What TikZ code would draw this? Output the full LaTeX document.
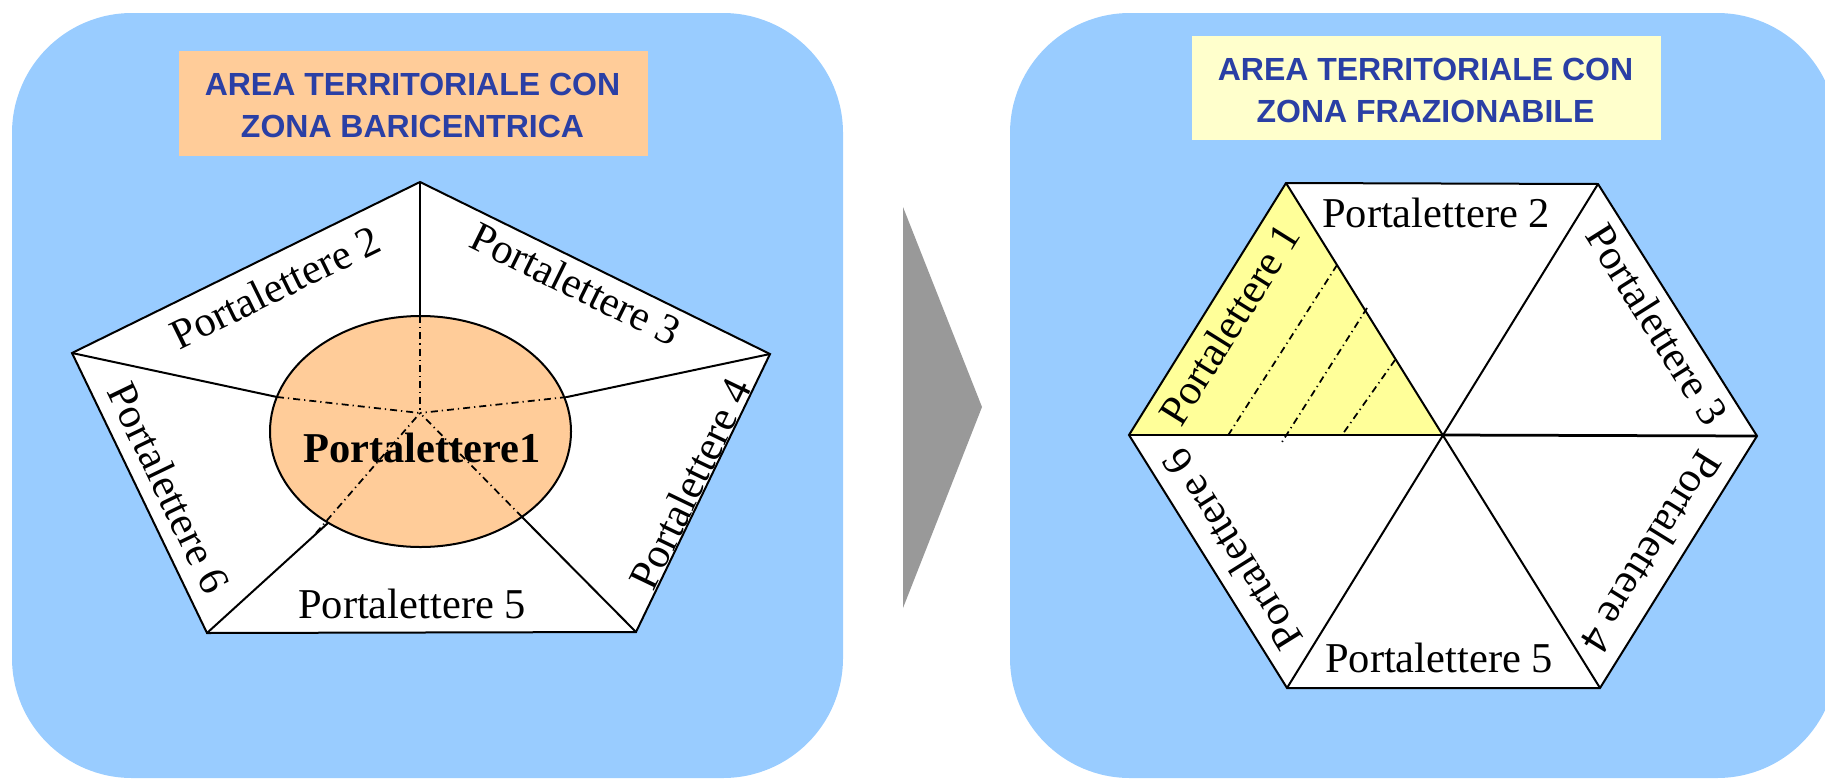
\documentclass[tikz,border=0pt]{standalone}
\usepackage{fontspec}
\setmainfont{Liberation Serif}
\newfontfamily\titlefont{Liberation Sans}
\usetikzlibrary{shapes.geometric}
\definecolor{panelblue}{HTML}{99CCFF}
\definecolor{peach}{HTML}{FFCC99}
\definecolor{paleyellow}{HTML}{FFFFCC}
\definecolor{zoneyellow}{HTML}{FFFF99}
\definecolor{titleblue}{HTML}{2A3FA5}
\definecolor{arrowgray}{HTML}{999999}
\begin{document}
\begin{tikzpicture}[x=0.4pt,y=-0.4pt,
  panel/.style={fill=panelblue, rounded corners=48pt},
  titlebox/.style={rectangle, inner sep=0pt, anchor=north west, minimum width=187.6pt},
  titletext/.style={font=\titlefont\bfseries\fontsize{12.8pt}{15pt}\selectfont, text=titleblue, anchor=base, inner sep=0pt},
  lbl/.style={font=\fontsize{17pt}{20pt}\selectfont, inner sep=0pt},
  edgeline/.style={line width=0.8pt, line join=miter},
  dashdotline/.style={line width=0.7pt, dash pattern=on 2.8pt off 1.6pt on 0.5pt off 1.6pt}
]
\useasboundingbox (0,0) rectangle (1825,780);

% panels
\path[panel] (12,13) rectangle (843,778);
\path[panel] (1010,13) rectangle (1837,778);

% arrow
\coordinate (aT) at (903,207);
\coordinate (aTip) at (982,407);
\coordinate (aB) at (903,608);
\fill[arrowgray] (aT) -- (aTip) -- (aB) -- cycle;

% titles
\node[titlebox, fill=peach, minimum height=42pt] (tboxL) at (178,50) {};
\node[titletext] (tL1) at (412.5,95) {AREA TERRITORIALE CON};
\node[titletext] (tL2) at (412.5,137) {ZONA BARICENTRICA};
\node[titlebox, fill=paleyellow, minimum height=41.6pt] (tboxR) at (1191,35) {};
\node[titletext] (tR1) at (1425.5,80) {AREA TERRITORIALE CON};
\node[titletext] (tR2) at (1425.5,122) {ZONA FRAZIONABILE};

% ---------- pentagon ----------
\coordinate (pT) at (420,182);
\coordinate (pR) at (770,354);
\coordinate (pBR) at (636,632);
\coordinate (pBL) at (207,633);
\coordinate (pL) at (72,353);
\coordinate (pC) at (420,413);
\coordinate (eT) at (420,316);
\coordinate (eL) at (277,397);
\coordinate (eR) at (567,397);
\coordinate (eBL) at (328,523);
\coordinate (eBLx) at (316,533);
\coordinate (eBR) at (522,517);

\draw[edgeline, fill=white] (pT) -- (pR) -- (pBR) -- (pBL) -- (pL) -- cycle;
\draw[edgeline] (pT) -- (eT);
\draw[edgeline] (pL) -- (eL);
\draw[edgeline] (pR) -- (eR);
\draw[edgeline] (pBL) -- (eBL);
\draw[edgeline] (pBR) -- (eBR);
\node[ellipse, draw, line width=0.8pt, fill=peach, minimum width=120.4pt, minimum height=92.4pt, inner sep=0pt] (zone) at (420.5,431.5) {};
\draw[dashdotline] (eT) -- (pC);
\draw[dashdotline] (eL) -- (pC);
\draw[dashdotline] (eR) -- (pC);
\draw[dashdotline] (eBLx) -- (pC);
\draw[dashdotline] (eBR) -- (pC);

\node[lbl, rotate=26.2] (lp2) at (275,287) {Portalettere 2};
\node[lbl, rotate=-26.2] (lp3) at (576,284) {Portalettere 3};
\node[lbl, rotate=64.3] (lp4) at (690,484) {Portalettere 4};
\node[lbl, anchor=base] (lp5) at (412,618) {Portalettere 5};
\node[lbl, rotate=-64.3] (lp6) at (169,488) {Portalettere 6};
\node[lbl, font=\bfseries\fontsize{17pt}{20pt}\selectfont] (lp1) at (422,448) {Portalettere1};

% ---------- hexagon ----------
\coordinate (hTL) at (1286,183);
\coordinate (hTR) at (1598,184);
\coordinate (hR) at (1757,436);
\coordinate (hBR) at (1600,688);
\coordinate (hBL) at (1287,688);
\coordinate (hL) at (1129,435);
\coordinate (hC) at (1443,435);

\fill[white] (hTL) -- (hTR) -- (hR) -- (hBR) -- (hBL) -- (hL) -- cycle;
\fill[zoneyellow] (hTL) -- (hL) -- (hC) -- cycle;

\coordinate (d1a) at (1337,265); \coordinate (d1b) at (1227,437);
\coordinate (d2a) at (1367,308); \coordinate (d2b) at (1282,442);
\coordinate (d3a) at (1395,360); \coordinate (d3b) at (1342,435);
\draw[dashdotline] (d1a) -- (d1b);
\draw[dashdotline] (d2a) -- (d2b);
\draw[dashdotline] (d3a) -- (d3b);

\draw[edgeline] (hTL) -- (hTR) -- (hR) -- (hBR) -- (hBL) -- (hL) -- cycle;
\draw[edgeline] (hTL) -- (hBR);
\draw[edgeline] (hTR) -- (hBL);
\draw[edgeline] (hL) -- (hC);
\draw[line width=1.1pt] (hC) -- (hR);

\node[lbl, anchor=base] (h2) at (1436,227) {Portalettere 2};
\node[lbl, rotate=-57.8] (h3) at (1657,324) {Portalettere 3};
\node[lbl, rotate=-121.8] (h4) at (1652,552) {Portalettere 4};
\node[lbl, anchor=base] (h5) at (1439,672) {Portalettere 5};
\node[lbl, rotate=122] (h6) at (1232,550) {Portalettere 6};
\node[lbl, rotate=58] (h1) at (1229,324) {Portalettere 1};
\end{tikzpicture}
\end{document}
